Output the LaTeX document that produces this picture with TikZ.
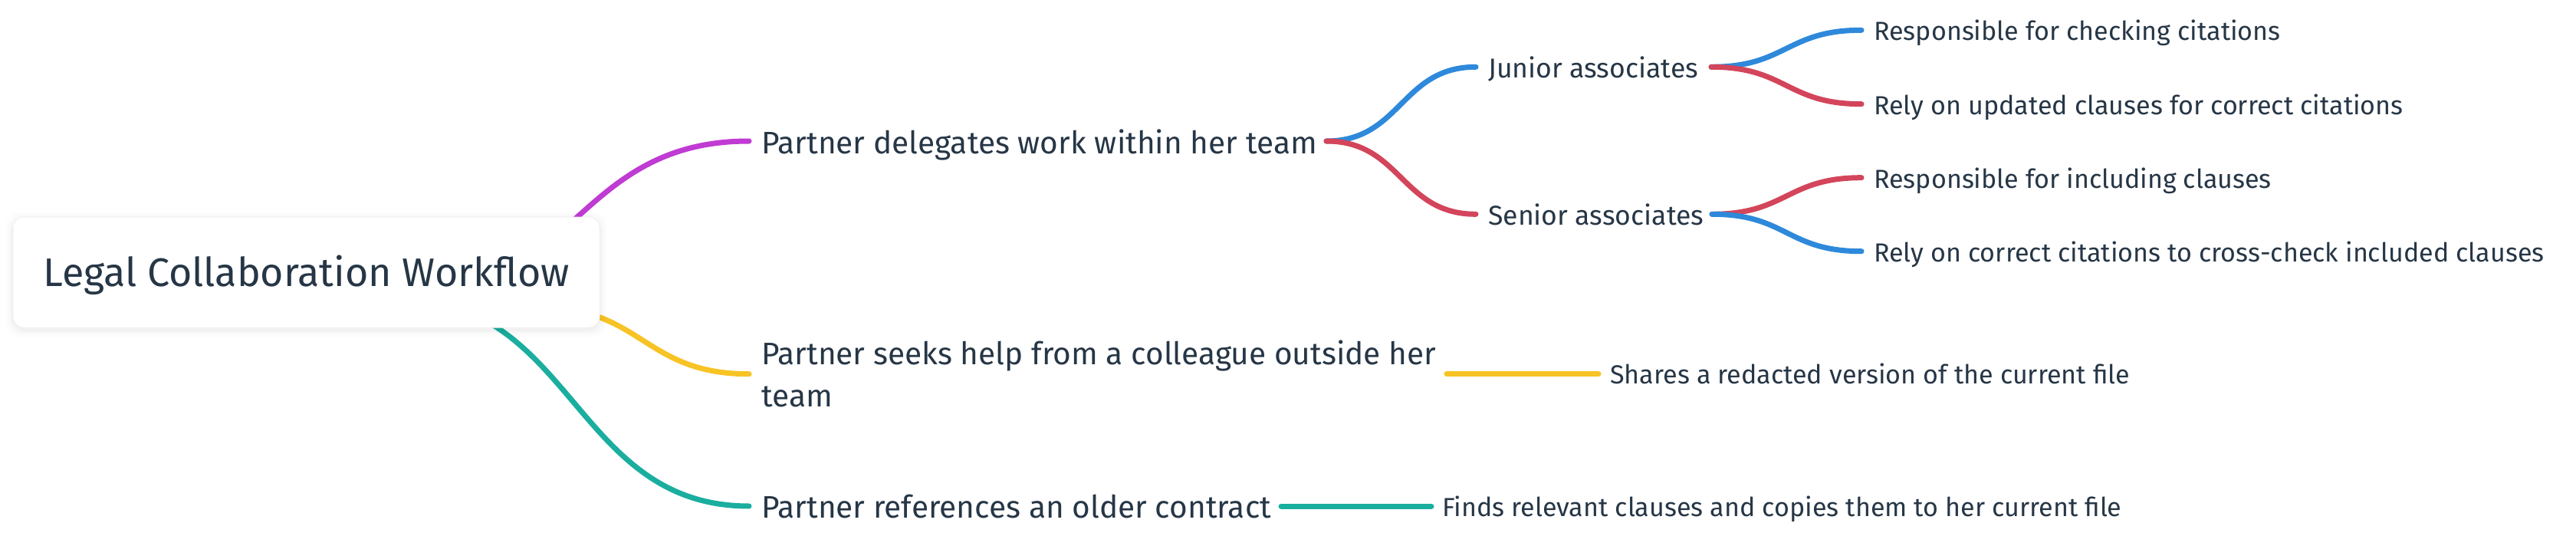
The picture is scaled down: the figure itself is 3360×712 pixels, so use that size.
\documentclass[tikz,border=0pt]{standalone}
\usepackage{fontspec}
\setmainfont{Fira Sans}
\definecolor{txt}{HTML}{263646}
\definecolor{cpurple}{HTML}{C03BD3}
\definecolor{cyellow}{HTML}{F7C325}
\definecolor{cteal}{HTML}{1AAE9F}
\definecolor{cblue}{HTML}{2E89DB}
\definecolor{cred}{HTML}{D3455B}
\definecolor{boxline}{HTML}{F3F3F3}
\tikzset{
  lnk/.style={line width=7pt, line cap=round},
  rootbox/.style={rounded corners=14pt, fill=white, draw=boxline, line width=1pt,
    minimum width=765pt, minimum height=144pt, inner sep=0pt, text=txt,
    font=\fontsize{52}{62}\selectfont, text height=37pt, text depth=0pt},
  lvone/.style={anchor=base west, inner sep=0pt, text=txt, font=\fontsize{40.6}{55}\selectfont},
  lvtwo/.style={anchor=base west, inner sep=0pt, text=txt, font=\fontsize{35.6}{44}\selectfont},
  leaf/.style={anchor=base west, inner sep=0pt, text=txt, font=\fontsize{34.1}{42}\selectfont},
}
\begin{document}
\begin{tikzpicture}[x=1pt,y=-1pt]
\useasboundingbox (0,0) rectangle (3360,712);
% anchor points of the connectors
\coordinate (r1) at (520,390);
\coordinate (r3) at (700,400);
\coordinate (pdin) at (977,184);
\coordinate (pdout) at (1730,184);
\coordinate (jrin) at (1925,87.3);
\coordinate (jrout) at (2232,87.3);
\coordinate (srin) at (1925,279.3);
\coordinate (srout) at (2233,279.3);
\coordinate (lain) at (2428,39.3);
\coordinate (lbin) at (2428,135.7);
\coordinate (lcin) at (2428,231.7);
\coordinate (ldin) at (2428,327.7);
\coordinate (psin) at (977,487.7);
\coordinate (psout) at (1887,487.7);
\coordinate (shin) at (2085,487.7);
\coordinate (prin) at (977,660);
\coordinate (prout) at (1671,660);
\coordinate (fdin) at (1867,660);

% root connectors (start hidden behind the root box)
\draw[lnk,cpurple] (r1) .. controls +(228.5,0) and +(-228.5,0) .. (pdin);
\draw[lnk,cteal] (r1) .. controls +(228.5,0) and +(-228.5,0) .. (prin);
\draw[lnk,cyellow] (r3) .. controls +(138.5,0) and +(-138.5,0) .. (psin);

% shadow + root box
\foreach \g/\o in {10/0.008,7/0.012,4/0.016,2/0.02}{
  \fill[black,opacity=\o,rounded corners=18pt] (17-\g,283-\g+3) rectangle (782+\g,427+\g+3);
}
\node[rootbox] (root) at (399.5,355) {Legal Collaboration Workflow};

% level one
\node[lvone] (pd) at (993,200) {Partner delegates work within her team};
\node[lvone] (ps) at (993,475) {\begin{tabular}[t]{@{}l@{}}Partner seeks help from a colleague outside her\\team\end{tabular}};
\node[lvone] (pr) at (993,675) {Partner references an older contract};

% level two
\draw[lnk,cblue] (pdout) .. controls +(97.5,0) and +(-97.5,0) .. (jrin);
\draw[lnk,cred] (pdout) .. controls +(97.5,0) and +(-97.5,0) .. (srin);
\node[lvtwo] (jr) at (1941,101) {Junior associates};
\node[lvtwo] (sr) at (1941,293.3) {Senior associates};

% leaves
\draw[lnk,cblue] (jrout) .. controls +(98,0) and +(-98,0) .. (lain);
\draw[lnk,cred] (jrout) .. controls +(98,0) and +(-98,0) .. (lbin);
\draw[lnk,cred] (srout) .. controls +(97.5,0) and +(-97.5,0) .. (lcin);
\draw[lnk,cblue] (srout) .. controls +(97.5,0) and +(-97.5,0) .. (ldin);
\node[leaf] (la) at (2444,52.3) {Responsible for checking citations};
\node[leaf] (lb) at (2444,149) {Rely on updated clauses for correct citations};
\node[leaf] (lc) at (2444,245) {Responsible for including clauses};
\node[leaf] (ld) at (2444,341) {Rely on correct citations to cross-check included clauses};

\draw[lnk,cyellow] (psout) -- (shin);
\node[leaf] (sh) at (2100,500.7) {Shares a redacted version of the current file};
\draw[lnk,cteal] (prout) -- (fdin);
\node[leaf] (fd) at (1881,673) {Finds relevant clauses and copies them to her current file};
\end{tikzpicture}
\end{document}
